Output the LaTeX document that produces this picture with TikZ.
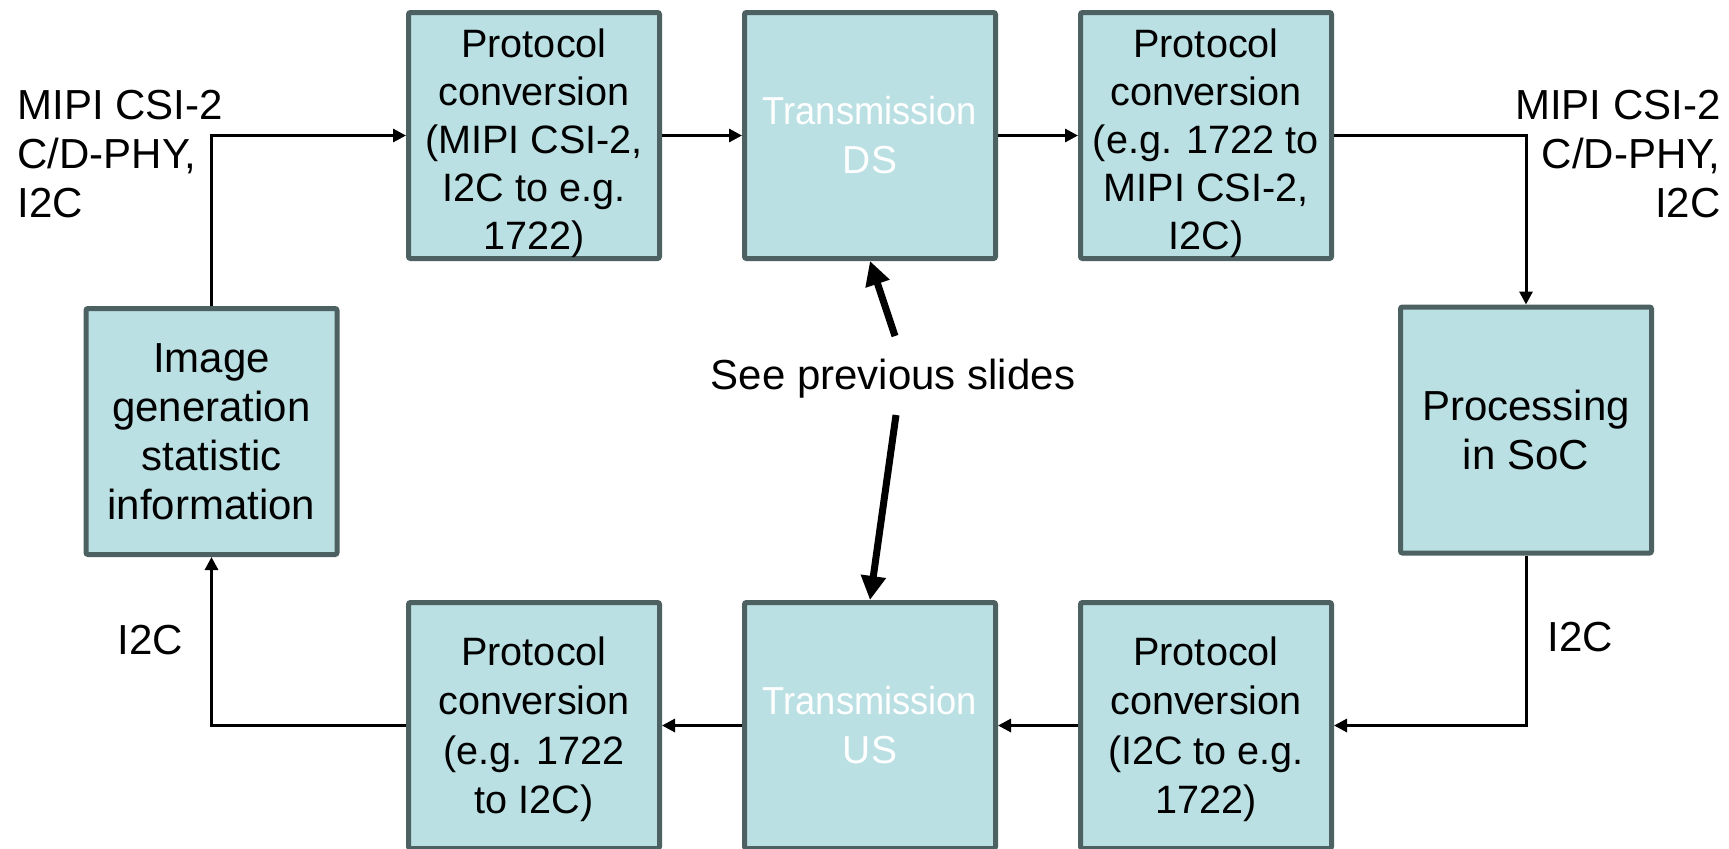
\documentclass[tikz,border=0pt]{standalone}
\usepackage{fontspec}
\setmainfont{Liberation Sans}
\usepackage{graphicx}
\usetikzlibrary{arrows.meta}

\definecolor{boxfill}{HTML}{BAE0E3}
\definecolor{boxline}{HTML}{4D6162}

\tikzset{
  block/.style={draw=boxline, fill=boxfill, line width=2.5pt, rounded corners=1pt,
    minimum width=125.5pt, minimum height=123pt, inner sep=0pt, align=center,
    font=\fontsize{21}{24.5}\selectfont},
  % caption of a protocol box, set in slightly smaller type; #1 is the line spacing
  prototext/.style={inner sep=0pt, align=center, font=\fontsize{19.8}{#1}\selectfont},
  txblock/.style={block, text=white, font=\fontsize{19.5}{24.5}\selectfont},
  lbl/.style={inner sep=0pt, font=\fontsize{21}{24.5}\selectfont},
  conn/.style={line width=1.5pt, -{Triangle[length=6.5pt,width=6.5pt]}},
  bigarrow/.style={line width=3.5pt, -{Triangle[length=12pt,width=12pt]}}
}
\newcommand{\narrow}[1]{\scalebox{0.93}[1]{#1}}

\begin{document}
\begin{tikzpicture}[x=0.5pt, y=-0.5pt]
  \useasboundingbox (0,0) rectangle (1729,848);
  \fill[white] (0,0) rectangle (1729,848);

  % upper row: downstream path
  \node[block] (pa) at (534,135.5) {};
  \node[prototext=23.9pt] (pa-t) at ([yshift=-3.9pt]pa.center)
    {Protocol\\conversion\\(MIPI CSI-2,\\I2C to e.g.\\1722)};
  \node[txblock] (ds) at (870,135.5) {\narrow{Transmission}\\DS};
  \node[block] (pc) at (1206,135.5) {};
  \node[prototext=23.9pt] (pc-t) at ([yshift=-3.9pt]pc.center)
    {Protocol\\conversion\\(e.g. 1722 to\\MIPI CSI-2,\\I2C)};

  % side blocks
  \node[block] (img) at (211.5,431.5) {Image\\generation\\statistic\\information};
  \node[block] (soc) at (1526,430) {Processing\\in SoC};

  % lower row: upstream path
  \node[block] (pbl) at (534,725.5) {};
  \node[prototext=24.6pt] (pbl-t) at ([yshift=-1.9pt]pbl.center)
    {Protocol\\conversion\\(e.g. 1722\\to I2C)};
  \node[txblock] (us) at (870,725.5) {\narrow{Transmission}\\US};
  \node[block] (pbr) at (1206,725.5) {};
  \node[prototext=24.6pt] (pbr-t) at ([yshift=-1.9pt]pbr.center)
    {Protocol\\conversion\\(I2C to e.g.\\1722)};

  % interface labels
  \node[lbl, anchor=west, align=left] (lin) at (17,154) {MIPI CSI-2\\C/D-PHY,\\I2C};
  \node[lbl, anchor=east, align=right] (lout) at (1721,154) {MIPI CSI-2\\C/D-PHY,\\I2C};
  \node[lbl] (i2cl) at (150.5,640) {I2C};
  \node[lbl] (i2cr) at (1580,637) {I2C};

  % data flow
  \draw[conn] (img.north) |- (pa.west);
  \draw[conn] (pa.east) -- (ds.west);
  \draw[conn] (ds.east) -- (pc.west);
  \draw[conn] (pc.east) -| (soc.north);
  \draw[conn] (soc.south) |- (pbr.east);
  \draw[conn] (pbr.west) -- (us.east);
  \draw[conn] (us.west) -- (pbl.east);
  \draw[conn] (pbl.west) -| (img.south);

  % reference note
  \node[lbl] (see) at (893,379) {See previous slides};
  \coordinate (seeup) at (895,336);
  \coordinate (seedown) at (896,415);
  \draw[bigarrow] (seeup) -- (ds.south);
  \draw[bigarrow] (seedown) -- (us.north);
\end{tikzpicture}
\end{document}
